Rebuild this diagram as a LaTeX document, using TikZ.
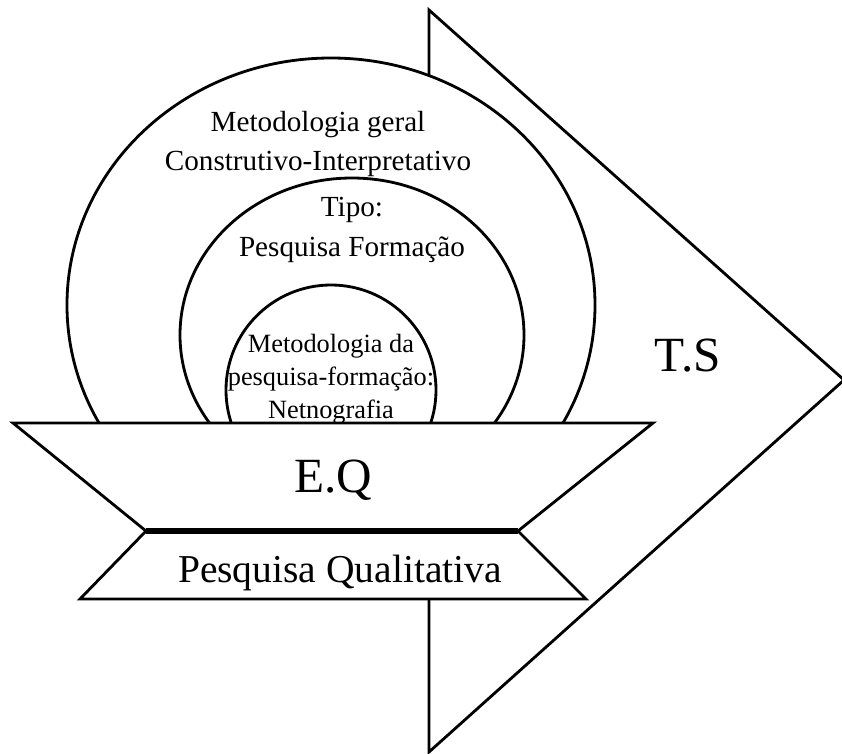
\documentclass[tikz,border=0pt]{standalone}
\usepackage{fontspec}
\setmainfont{Liberation Serif}
\usetikzlibrary{positioning}

\begin{document}
\begin{tikzpicture}[
	x=0.02cm,
	y=-0.02cm,
	line width=1.6pt,
	line join=miter,
	panel/.style={
		draw,
		fill=white
	},
	label/.style={
		inner sep=0pt,
		align=center,
		font=\fontsize{16.6}{22.5}\selectfont
	},
	inlabel/.style={
		label,
		font=\fontsize{15}{18.7}\selectfont
	},
	biglabel/.style={
		inner sep=0pt,
		font=\fontsize{28}{32}\selectfont
	}]

	\useasboundingbox (0,0) rectangle (842,754);

	% big arrow T.S
	\draw[panel] (429,10) -- (844,380) -- (429,752) -- cycle;

	% three rounds of the method
	\begin{scope}
		\clip (0,0) rectangle (842,424);
		\draw[panel] (331,305) ellipse [x radius=264, y radius=247];
		\draw[panel] (352,335) ellipse [x radius=172, y radius=157];
		\draw[panel] (331,390) circle [radius=105];
	\end{scope}

	% E.Q and Pesquisa Qualitativa
	\draw[panel] (13,423) -- (653,423) -- (518,531) -- (146,531) -- cycle;
	\draw[panel] (146,531) -- (518,531) -- (586,599) -- (80,599) -- cycle;
	\draw[line width=3.4pt] (146,531) -- (518,531);

	\node[label] (geral) at (318,144) {Metodologia geral\\Construtivo-Interpretativo};
	\node[label] (tipo) at (352,230) {Tipo:\\Pesquisa Formação};
	\node[inlabel] (netno) at (331,379) {Metodologia da\\pesquisa-formação:\\Netnografia};
	\node[biglabel] (eq) at (333,480) {E.Q};
	\node[biglabel] (ts) at (688,356) {T.S};
	\node[inner sep=0pt, font=\fontsize{22.5}{26}\selectfont] (qual) at (340,573) {Pesquisa Qualitativa};
\end{tikzpicture}
\end{document}
